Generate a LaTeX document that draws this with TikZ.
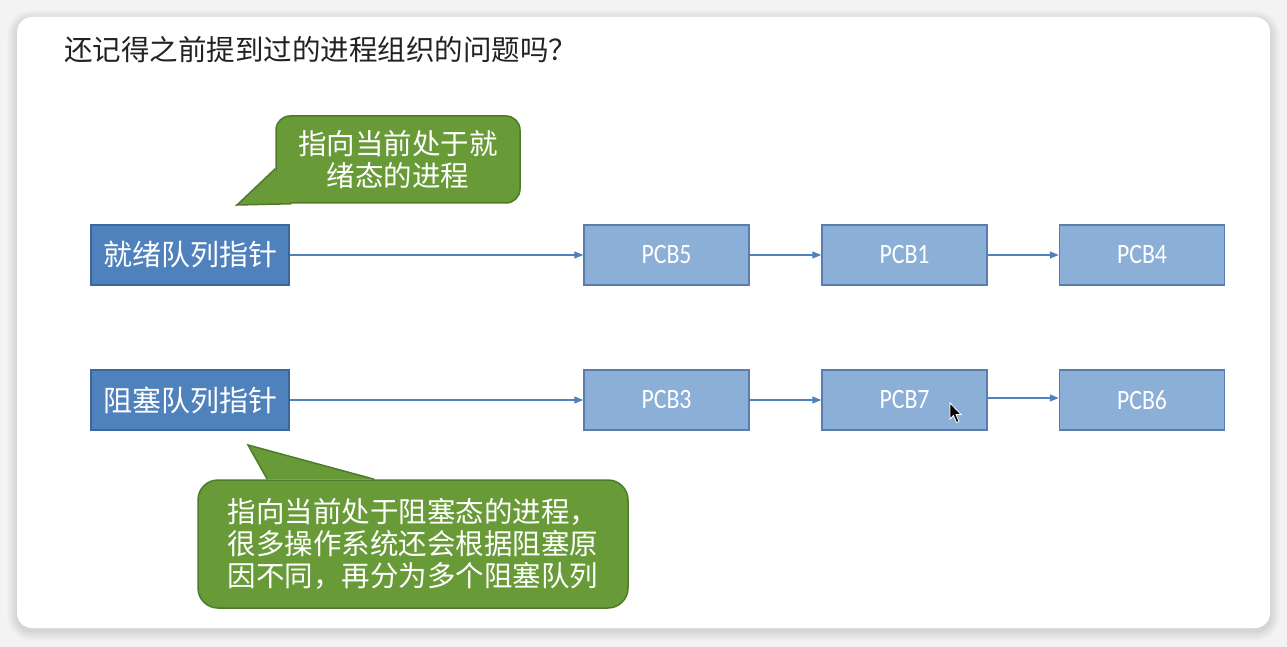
\documentclass[tikz,border=0pt]{standalone}
\usepackage{fontspec}
\setmainfont{Carlito}
\newfontfamily\cjk{Noto Sans CJK SC}
\newfontfamily\pcbfont[FakeStretch=0.85]{Carlito}
\usetikzlibrary{arrows.meta,shapes.misc,calc}
\definecolor{bg}{HTML}{F3F3F3}
\definecolor{ptrfill}{HTML}{4F81BD}
\definecolor{ptrdraw}{HTML}{3B679B}
\definecolor{pcbfill}{HTML}{8CAFD8}
\definecolor{pcbdraw}{HTML}{5A7DAE}
\definecolor{arrowc}{HTML}{4F81BD}
\definecolor{callfill}{HTML}{689A37}
\definecolor{calldraw}{HTML}{4E7B29}
\definecolor{titlec}{HTML}{222222}
\begin{document}
\begin{tikzpicture}[x=1pt,y=-1pt,
  ptrbox/.style={draw=ptrdraw,fill=ptrfill,line width=1.5pt,minimum width=198pt,minimum height=60pt,inner sep=0pt,text=white,font=\cjk\fontsize{29}{33}\selectfont},
  pcbbox/.style={draw=pcbdraw,fill=pcbfill,line width=1.5pt,minimum width=165pt,minimum height=60pt,inner sep=0pt,text=white,font=\pcbfont\fontsize{28}{30}\selectfont},
  link/.style={draw=arrowc,line width=1.3pt,-{Triangle[length=9pt,width=7pt]}},
  callout/.style={draw=calldraw,fill=callfill,line width=1.5pt,inner sep=0pt,text=white,font=\cjk\fontsize{28.5}{32}\selectfont},
  tailfill/.style={fill=callfill},
  tailedge/.style={draw=calldraw,line width=1.5pt,line join=miter}]
\useasboundingbox (0,0) rectangle (1287,647);
\fill[bg] (0,0) rectangle (1287,647);
% card shadow
\foreach \i in {1,...,10}
  \fill[black,opacity=0.013,rounded corners=15+\i] (17-\i,17-\i+3) rectangle (1270+\i,628+\i+3);
\fill[white,rounded corners=15] (17,17) rectangle (1270,628);
% title
\node[anchor=west,inner sep=0pt,text=titlec,font=\cjk\fontsize{28.5}{30}\selectfont] (title) at (64,50) {还记得之前提到过的进程组织的问题吗？};
% row 1
\node[ptrbox] (ready) at (190,255) {就绪队列指针};
\node[pcbbox] (p5) at (666.5,255) {PCB5};
\node[pcbbox] (p1) at (904.5,255) {PCB1};
\node[pcbbox] (p4) at (1142,255) {PCB4};
% row 2
\node[ptrbox] (block) at (190,400) {阻塞队列指针};
\node[pcbbox] (p3) at (666.5,400) {PCB3};
\node[pcbbox] (p7) at (904.5,400) {PCB7};
\node[pcbbox] (p6) at (1142,400) {PCB6};
% links
\draw[link] (ready) -- (p5);
\draw[link] (p5) -- (p1);
\draw[link] (p1) -- (p4);
\draw[link] (block) -- (p3);
\draw[link] (p3) -- (p7);
\draw[link] ([yshift=2pt]p7.east) -- ([yshift=2pt]p6.west);
% callout 1
\node[callout,rounded corners=14pt,minimum width=244pt,minimum height=87pt,align=center] (c1) at (398,159.5) {指向当前处于就\\绪态的进程};
\coordinate (c1a) at ($(c1.south west)+(0,-35)$);
\coordinate (c1b) at ($(c1.south west)+(16,0)$);
\coordinate (c1t) at (237,205);
\fill[tailfill] (c1a) -- (c1t) -- (c1b) -- cycle;
\draw[tailedge] (c1a) -- (c1t) -- (c1b);
% callout 2
\node[callout,rounded corners=20pt,minimum width=430pt,minimum height=128pt,align=left] (c2) at (413,544) {指向当前处于阻塞态的进程，\\很多操作系统还会根据阻塞原\\因不同，再分为多个阻塞队列};
\coordinate (c2a) at ($(c2.north west)+(70,0)$);
\coordinate (c2b) at ($(c2.north west)+(177,0)$);
\coordinate (c2t) at (248,445);
\fill[tailfill] (c2a) -- (c2t) -- (c2b) -- cycle;
\draw[tailedge] (c2a) -- (c2t) -- (c2b);
% mouse cursor
\filldraw[fill=black,draw=white,line width=0.8pt] (950,403) -- (950,419) -- (953.5,415.5) -- (956.5,422.5) -- (959,421.5) -- (956,414.5) -- (961,414.5) -- cycle;
\end{tikzpicture}
\end{document}
